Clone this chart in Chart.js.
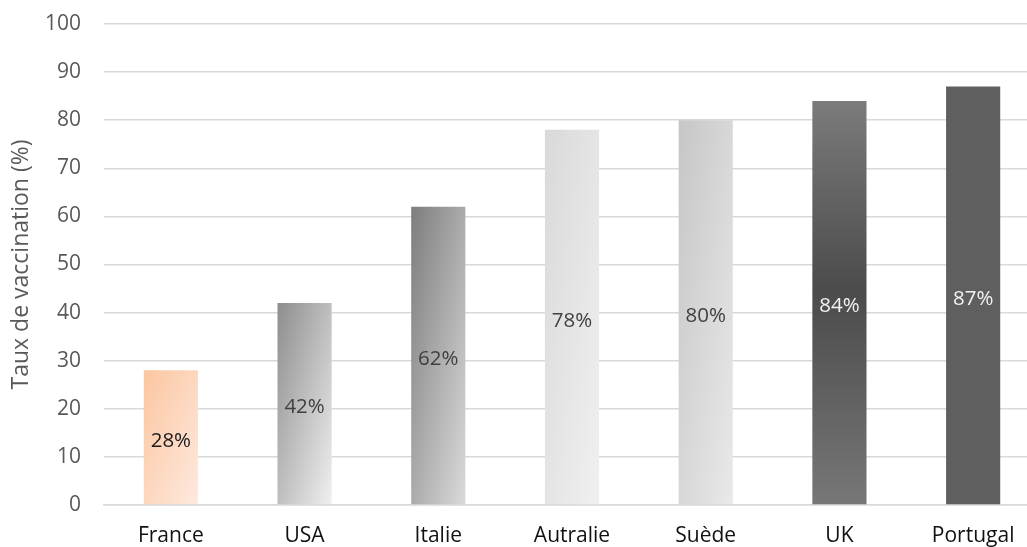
<!DOCTYPE html>
<html>
<head>
<meta charset="utf-8">
<script src="https://cdn.jsdelivr.net/npm/chart.js@4.4.0/dist/chart.umd.min.js"></script>
<style>
  html, body { margin: 0; padding: 0; background: #fff; overflow: hidden; }
  #wrap { width: 1040px; height: 547px; }
</style>
</head>
<body>
<div id="wrap"><canvas id="graphique"></canvas></div>
<script>
// données
const pays = ['France', 'USA', 'Italie', 'Autralie', 'Suède', 'UK', 'Portugal'];
const taux = [28, 42, 62, 78, 80, 84, 87];
const graduations = [0, 10, 20, 30, 40, 50, 60, 70, 80, 90, 100];

// styles des barres (dégradés façon Excel)
const degrades = [
  { type: 'diag', stops: ['#fbc6a1', '#fee9de'] },
  { type: 'diag', stops: ['#8d8d8d', '#f0f0f0'] },
  { type: 'diag', stops: ['#7d7d7d', '#dadada'] },
  { type: 'diag', stops: ['#d9d9d9', '#f0f0f0'] },
  { type: 'diag', stops: ['#c6c6c6', '#e9e9e9'] },
  { type: 'vert', stops: ['#7b7b7b', '#4b4b4b', '#777777'], pos: [0, 0.47, 1] },
  { type: 'solid', stops: ['#5f5f5f'] }
];
const couleursTexte = ['#1a1a1a', '#404040', '#404040', '#404040', '#404040', '#f2f2f2', '#f2f2f2'];

const police = '"Open Sans", "Noto Sans", sans-serif';

function couleurBarre(context) {
  const chart = context.chart;
  const i = context.dataIndex;
  const d = degrades[i];
  if (!d) return '#999';
  if (d.type === 'solid' || !chart.chartArea) return d.stops[0];
  const x = chart.scales.x, y = chart.scales.y;
  const cx = x.getPixelForValue(i);
  const w = (x.width / pays.length) * 0.405;
  const left = cx - w / 2;
  const top = y.getPixelForValue(taux[i]);
  const bottom = y.getPixelForValue(0);
  const h = bottom - top;
  const ctx = chart.ctx;
  let g;
  if (d.type === 'vert') {
    g = ctx.createLinearGradient(0, top, 0, bottom);
    d.stops.forEach((c, k) => g.addColorStop(d.pos[k], c));
  } else {
    // gradient "mis à l'échelle" : isolignes parallèles à la diagonale haut-droite / bas-gauche
    const f = 2 * w * h / (h * h + w * w);
    g = ctx.createLinearGradient(left, top, left + h * f, top + w * f);
    g.addColorStop(0, d.stops[0]);
    g.addColorStop(1, d.stops[1]);
  }
  return g;
}

const etiquettes = {
  id: 'etiquettes',
  afterDatasetsDraw(chart) {
    const ctx = chart.ctx;
    const meta = chart.getDatasetMeta(0);
    ctx.save();
    ctx.font = '20.5px ' + police;
    ctx.textAlign = 'center';
    ctx.textBaseline = 'middle';
    meta.data.forEach((bar, i) => {
      ctx.fillStyle = couleursTexte[i];
      ctx.fillText(taux[i] + '%', bar.x, (bar.y + bar.base) / 2 + 4);
    });
    ctx.restore();
  }
};

new Chart(document.getElementById('graphique'), {
  type: 'bar',
  data: {
    labels: pays,
    datasets: [{
      data: taux,
      backgroundColor: couleurBarre,
      borderWidth: 0,
      barPercentage: 0.405,
      categoryPercentage: 1
    }]
  },
  options: {
    responsive: true,
    maintainAspectRatio: false,
    animation: false,
    layout: { padding: { top: 24, right: 0, left: 8, bottom: 0 } },
    plugins: {
      legend: { display: false },
      tooltip: { enabled: false }
    },
    scales: {
      x: {
        grid: { display: false, drawTicks: false },
        border: { color: '#d9d9d9', width: 1.5 },
        ticks: { color: '#111', font: { family: police, size: 21 }, padding: 18 },
        afterFit(scale) { scale.height = 42; }
      },
      y: {
        min: 0,
        max: 100,
        afterBuildTicks(scale) { scale.ticks = graduations.map(v => ({ value: v })); },
        grid: { color: '#d9d9d9', lineWidth: 1.5, drawTicks: false },
        border: { display: false },
        ticks: { color: '#595959', font: { family: police, size: 21 }, padding: 23 },
        title: {
          display: true,
          text: 'Taux de vaccination (%)',
          color: '#595959',
          font: { family: police, size: 23 },
          padding: { top: 0, bottom: 0 }
        },
        afterFit(scale) {
          scale.width = 96;
          scale.paddingTop = 0;
          scale.paddingBottom = 0;
        }
      }
    }
  },
  plugins: [etiquettes]
});
</script>
</body>
</html>
